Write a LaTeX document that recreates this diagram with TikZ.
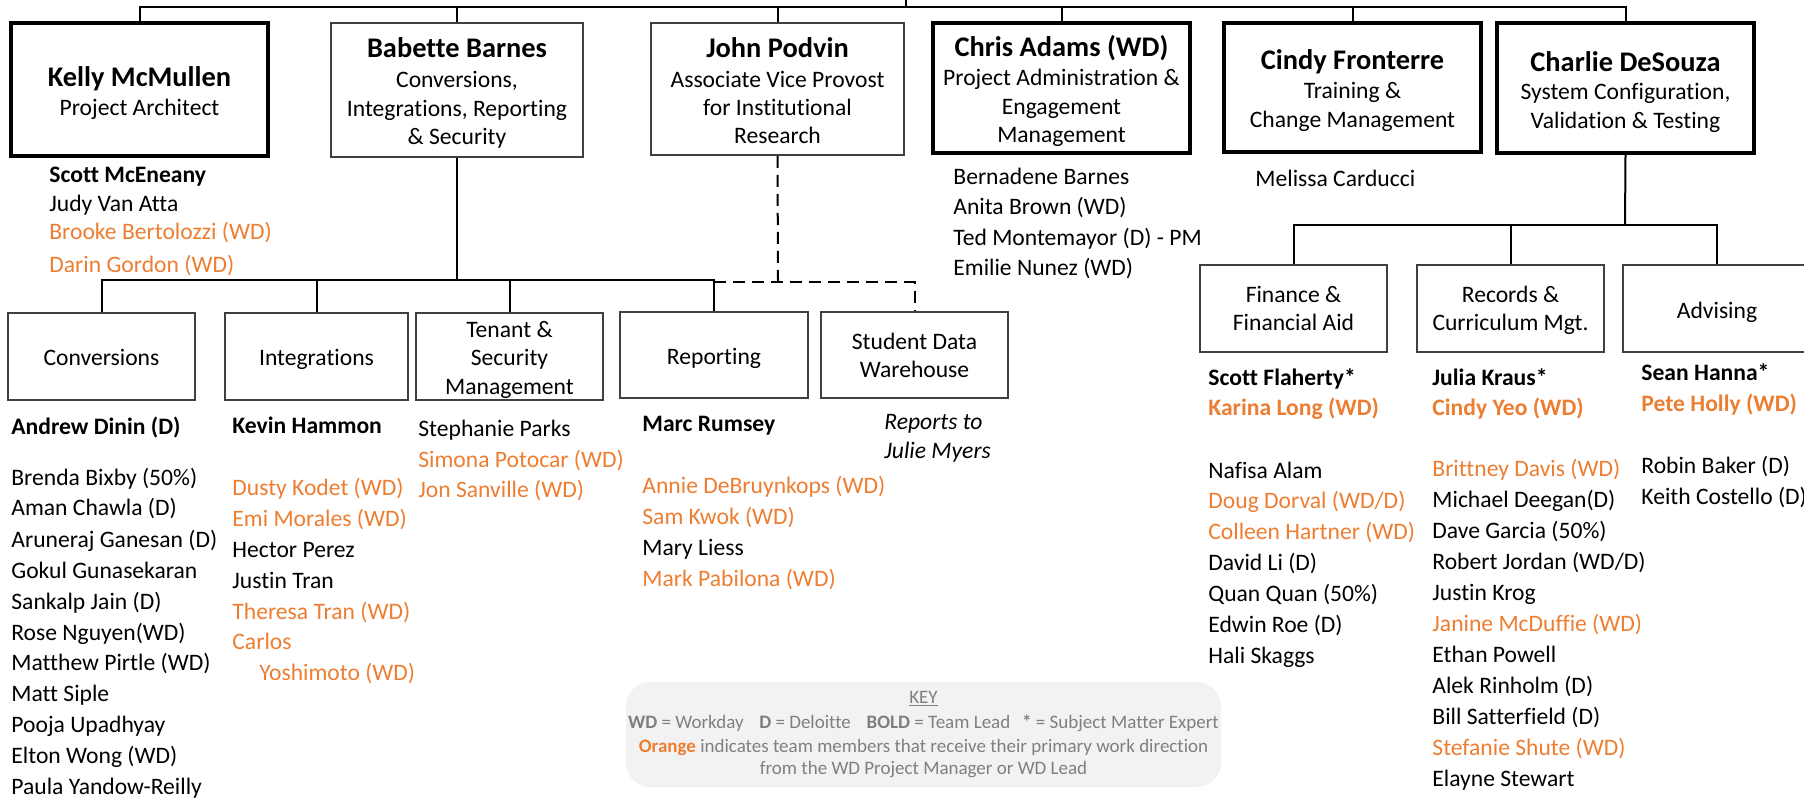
\documentclass[tikz,border=0pt]{standalone}
\usepackage{fontspec}
\setmainfont{Carlito}[RawFeature={-liga;-clig;-dlig;-calt}]
\definecolor{orng}{RGB}{237,125,49}
\definecolor{keygrey}{RGB}{127,127,127}
\definecolor{keyfill}{RGB}{242,242,242}
\definecolor{boxline}{RGB}{64,64,64}
\begin{document}
\begin{tikzpicture}[x=0.5pt,y=-0.5pt,
  thinbox/.style={draw=boxline,line width=0.75pt,inner sep=0pt},
  thickbox/.style={draw=black,line width=1.75pt,inner sep=0pt},
  conn/.style={draw=black,line width=1pt},
  dconn/.style={draw=black,line width=1pt,dash pattern=on 6pt off 3.5pt},
  ttl/.style={inner sep=0pt,anchor=base,font=\fontsize{14.2}{16}\selectfont\bfseries},
  sub/.style={inner sep=0pt,anchor=base,font=\fontsize{11.8}{14}\selectfont},
  mem/.style={inner sep=0pt,anchor=base west,font=\fontsize{11.8}{14}\selectfont},
  memo/.style={mem,text=orng},
  lead/.style={mem,font=\fontsize{11.8}{14}\selectfont\bfseries},
  leado/.style={lead,text=orng},
  keytxt/.style={inner sep=0pt,anchor=base,text=keygrey,font=\fontsize{9.5}{11}\selectfont}
]
\useasboundingbox (0,0) rectangle (1804,799);
\clip (0,0) rectangle (1804,799);

% ---------- top level boxes ----------
\node[thickbox,minimum width=128.5pt,minimum height=66.5pt] (kelly) at (139.5,89.5) {};
\node[thinbox,minimum width=126pt,minimum height=67pt] (babette) at (457,90) {};
\node[thinbox,minimum width=126.5pt,minimum height=66pt] (podvin) at (777.5,89) {};
\node[thickbox,minimum width=128.5pt,minimum height=65pt] (chris) at (1061.5,88) {};
\node[thickbox,minimum width=128.5pt,minimum height=64.5pt] (cindy) at (1352.5,87.5) {};
\node[thickbox,minimum width=128.5pt,minimum height=65pt] (charlie) at (1625.5,88) {};

\node[ttl] (kellyT) at (139.5,86) {Kelly McMullen};
\node[sub] (kellyS) at (139.5,115) {Project Architect};

\node[ttl] (babT) at (457,57) {Babette Barnes};
\node[sub] (babS1) at (457,87) {Conversions,};
\node[sub] (babS2) at (457,116) {Integrations, Reporting};
\node[sub] (babS3) at (457,144) {\& Security};

\node[ttl] (podT) at (777.5,57) {John Podvin};
\node[sub] (podS1) at (777.5,87) {Associate Vice Provost};
\node[sub] (podS2) at (777.5,115) {for Institutional};
\node[sub] (podS3) at (777.5,143) {Research};

\node[ttl] (chrT) at (1061.5,56) {Chris Adams (WD)};
\node[sub] (chrS1) at (1061.5,85) {Project Administration \&};
\node[sub] (chrS2) at (1061.5,114) {Engagement};
\node[sub] (chrS3) at (1061.5,142) {Management};

\node[ttl] (cinT) at (1352.5,69) {Cindy Fronterre};
\node[sub] (cinS1) at (1352.5,98) {Training \&};
\node[sub] (cinS2) at (1352.5,127) {Change Management};

\node[ttl] (chaT) at (1625.5,71) {Charlie DeSouza};
\node[sub] (chaS1) at (1625.5,99) {System Configuration,};
\node[sub] (chaS2) at (1625.5,128) {Validation \& Testing};

% ---------- top connectors ----------
\coordinate (rootbus) at (906,7);
\coordinate (roottop) at (906,0);
\draw[conn] (rootbus) -- (roottop);
\draw[conn] (kelly.north) |- (rootbus);
\draw[conn] (babette.north) |- (rootbus);
\draw[conn] (podvin.north) |- (rootbus);
\draw[conn] (chris.north) |- (rootbus);
\draw[conn] (cindy.north) |- (rootbus);
\draw[conn] (charlie.north) |- (rootbus);

% ---------- second level boxes ----------
\node[thinbox,minimum width=93.5pt,minimum height=43.5pt] (conv) at (101.5,356.5) {};
\node[thinbox,minimum width=91.5pt,minimum height=43.5pt] (integ) at (316.5,356.5) {};
\node[thinbox,minimum width=93.5pt,minimum height=43.5pt] (tenant) at (509.5,356.5) {};
\node[thinbox,minimum width=94pt,minimum height=43pt] (rep) at (714,355) {};
\node[thinbox,minimum width=93.5pt,minimum height=43pt] (sdw) at (914.5,355) {};
\node[thinbox,minimum width=93.5pt,minimum height=43.5pt] (fin) at (1293.5,308.5) {};
\node[thinbox,minimum width=93.5pt,minimum height=43.5pt] (rec) at (1510.5,308.5) {};
\node[thinbox,minimum width=94pt,minimum height=43.5pt] (adv) at (1717,308.5) {};

\node[sub] (convT) at (101.5,365) {Conversions};
\node[sub] (integT) at (316.5,365) {Integrations};
\node[sub] (tenT1) at (509.5,337) {Tenant \&};
\node[sub] (tenT2) at (509.5,365) {Security};
\node[sub] (tenT3) at (509.5,394) {Management};
\node[sub] (repT) at (714,364) {Reporting};
\node[sub] (sdwT1) at (914.5,349) {Student Data};
\node[sub] (sdwT2) at (914.5,377) {Warehouse};
\node[sub] (finT1) at (1293.5,302) {Finance \&};
\node[sub] (finT2) at (1293.5,330) {Financial Aid};
\node[sub] (recT1) at (1510.5,302) {Records \&};
\node[sub] (recT2) at (1510.5,330) {Curriculum Mgt.};
\node[sub] (advT) at (1717,318) {Advising};

% ---------- second level connectors ----------
\coordinate (babbus) at (457,280);
\draw[conn] (babette.south) -- (babbus);
\draw[conn] (conv.north) |- (babbus);
\draw[conn] (integ.north) |- (babbus);
\draw[conn] (tenant.north) |- (babbus);
\draw[conn] (rep.north) |- (babbus);

\coordinate (podbus) at (778,282);
\draw[dconn] (podvin.south) -- (podbus);
\draw[dconn] (rep.north |- podbus) -| (sdw.north);

\coordinate (chabus) at (1625,225);
\draw[conn] (charlie.south) -- (chabus);
\draw[conn] (fin.north) |- (chabus);
\draw[conn] (rec.north) |- (chabus);
\draw[conn] (adv.north) |- (chabus);

% ---------- Kelly team ----------
\node[lead] (k1) at (49,182) {Scott McEneany};
\node[mem]  (k2) at (49,211) {Judy Van Atta};
\node[memo] (k3) at (49,239) {Brooke Bertolozzi (WD)};
\node[memo] (k4) at (49,272) {Darin Gordon (WD)};

% ---------- Chris team ----------
\node[mem] (c1) at (953,184) {Bernadene Barnes};
\node[mem] (c2) at (953,214) {Anita Brown (WD)};
\node[mem] (c3) at (953,245) {Ted Montemayor (D) - PM};
\node[mem] (c4) at (953,275) {Emilie Nunez (WD)};

% ---------- Cindy team ----------
\node[mem] (f1) at (1255,186) {Melissa Carducci};

% ---------- Conversions ----------
\node[lead] (v0) at (11,434) {Andrew Dinin (D)};
\node[mem] (v1) at (11,485) {Brenda Bixby (50\%)};
\node[mem] (v2) at (11,515) {Aman Chawla (D)};
\node[mem] (v3) at (11,547) {Aruneraj Ganesan (D)};
\node[mem] (v4) at (11,578) {Gokul Gunasekaran};
\node[mem] (v5) at (11,609) {Sankalp Jain (D)};
\node[mem] (v6) at (11,640) {Rose Nguyen(WD)};
\node[mem] (v7) at (11,670) {Matthew Pirtle (WD)};
\node[mem] (v8) at (11,701) {Matt Siple};
\node[mem] (v9) at (11,732) {Pooja Upadhyay};
\node[mem] (v10) at (11,763) {Elton Wong (WD)};
\node[mem] (v11) at (11,794) {Paula Yandow-Reilly};

% ---------- Integrations ----------
\node[lead] (i0) at (232,433) {Kevin Hammon};
\node[memo] (i1) at (232,495) {Dusty Kodet (WD)};
\node[memo] (i2) at (232,526) {Emi Morales (WD)};
\node[mem]  (i3) at (232,557) {Hector Perez};
\node[mem]  (i4) at (232,588) {Justin Tran};
\node[memo] (i5) at (232,619) {Theresa Tran (WD)};
\node[memo] (i6) at (232,649) {Carlos};
\node[memo] (i7) at (259,680) {Yoshimoto (WD)};

% ---------- Tenant ----------
\node[mem]  (t1) at (418,436) {Stephanie Parks};
\node[memo] (t2) at (418,467) {Simona Potocar (WD)};
\node[memo] (t3) at (418,497) {Jon Sanville (WD)};

% ---------- Reporting ----------
\node[lead] (r0) at (642,431) {Marc Rumsey};
\node[memo] (r1) at (642,493) {Annie DeBruynkops (WD)};
\node[memo] (r2) at (642,524) {Sam Kwok (WD)};
\node[mem]  (r3) at (642,555) {Mary Liess};
\node[memo] (r4) at (642,586) {Mark Pabilona (WD)};

% ---------- Student Data Warehouse ----------
\node[mem,font=\fontsize{11.8}{14}\selectfont\itshape] (s1) at (884,429) {Reports to};
\node[mem,font=\fontsize{11.8}{14}\selectfont\itshape] (s2) at (884,458) {Julie Myers};

% ---------- Finance ----------
\node[lead]  (n0) at (1208,385) {Scott Flaherty*};
\node[leado] (n1) at (1208,415) {Karina Long (WD)};
\node[mem]  (n2) at (1208,478) {Nafisa Alam};
\node[memo] (n3) at (1208,508) {Doug Dorval (WD/D)};
\node[memo] (n4) at (1208,539) {Colleen Hartner (WD)};
\node[mem]  (n5) at (1208,570) {David Li (D)};
\node[mem]  (n6) at (1208,601) {Quan Quan (50\%)};
\node[mem]  (n7) at (1208,632) {Edwin Roe (D)};
\node[mem]  (n8) at (1208,663) {Hali Skaggs};

% ---------- Records ----------
\node[lead]  (e0) at (1432,385) {Julia Kraus*};
\node[leado] (e1) at (1432,415) {Cindy Yeo (WD)};
\node[memo] (e2) at (1432,476) {Brittney Davis (WD)};
\node[mem]  (e3) at (1432,507) {Michael Deegan(D)};
\node[mem]  (e4) at (1432,538) {Dave Garcia (50\%)};
\node[mem]  (e5) at (1432,569) {Robert Jordan (WD/D)};
\node[mem]  (e6) at (1432,600) {Justin Krog};
\node[memo] (e7) at (1432,631) {Janine McDuffie (WD)};
\node[mem]  (e8) at (1432,662) {Ethan Powell};
\node[mem]  (e9) at (1432,693) {Alek Rinholm (D)};
\node[mem]  (e10) at (1432,724) {Bill Satterfield (D)};
\node[memo] (e11) at (1432,755) {Stefanie Shute (WD)};
\node[mem]  (e12) at (1432,786) {Elayne Stewart};

% ---------- Advising ----------
\node[lead]  (a0) at (1641,380) {Sean Hanna*};
\node[leado] (a1) at (1641,411) {Pete Holly (WD)};
\node[mem]  (a2) at (1641,473) {Robin Baker (D)};
\node[mem]  (a3) at (1641,504) {Keith Costello (D)};

% ---------- Key ----------
\node[fill=keyfill,rounded corners=12pt,minimum width=297.5pt,minimum height=52.5pt,inner sep=0pt] (key) at (923.5,734.5) {};
\node[keytxt] (key0) at (923.5,703) {\underline{KEY}};
\node[keytxt] (key1) at (923.5,728) {\textbf{WD} = Workday\hspace{0.6em} \textbf{D} = Deloitte\hspace{0.6em} \textbf{BOLD} = Team Lead\hspace{0.4em} \textbf{*} = Subject Matter Expert};
\node[keytxt] (key2) at (923.5,752) {\textcolor{orng}{\textbf{Orange}} indicates team members that receive their primary work direction};
\node[keytxt] (key3) at (923.5,774) {from the WD Project Manager or WD Lead};
\end{tikzpicture}
\end{document}
